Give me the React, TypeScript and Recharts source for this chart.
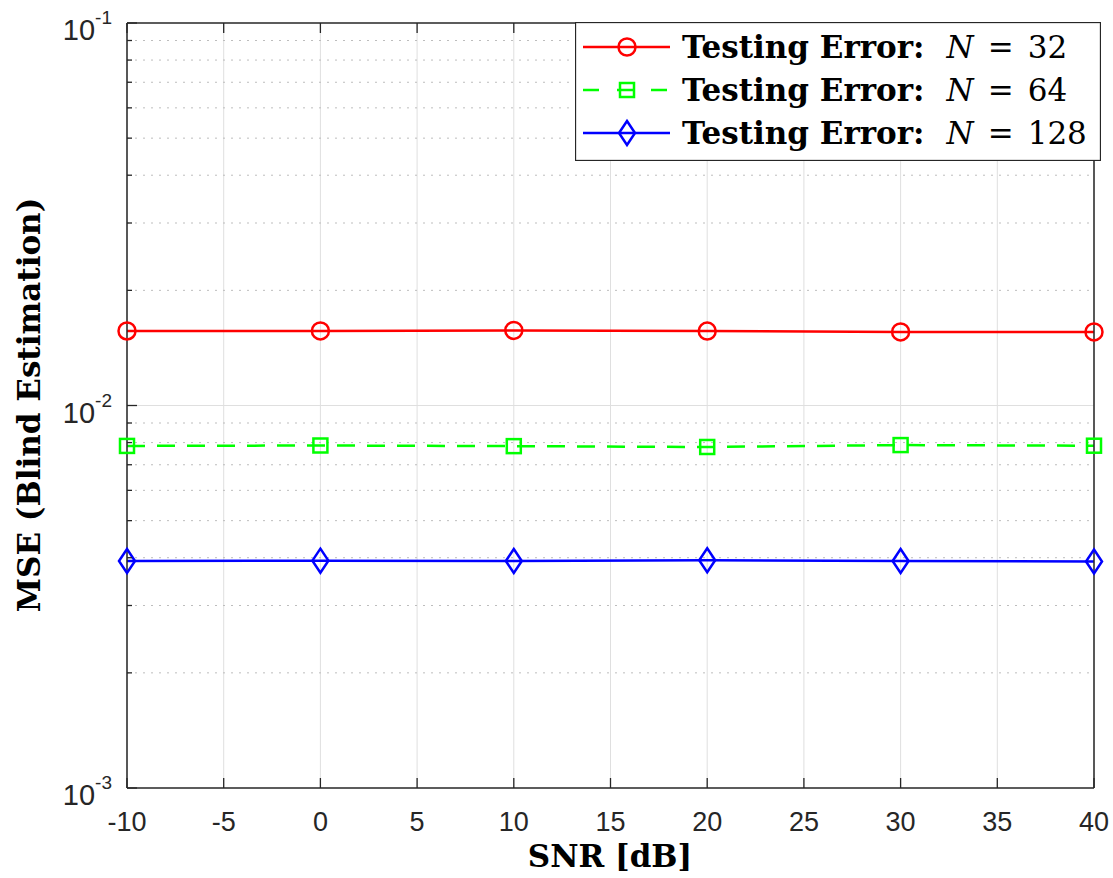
import React from "react";
import {
  LineChart,
  Line,
  XAxis,
  YAxis,
  CartesianGrid,
  ReferenceLine,
  Legend,
  Label,
} from "recharts";

const snr = [-10, 0, 10, 20, 30, 40];
const errN32 = [0.01566, 0.01567, 0.01571, 0.01565, 0.01557, 0.01557];
const errN64 = [0.00784, 0.00786, 0.00783, 0.00779, 0.00788, 0.00785];
const errN128 = [0.00392, 0.00393, 0.00392, 0.00394, 0.00392, 0.00391];

const xTicks = [-10, -5, 0, 5, 10, 15, 20, 25, 30, 35, 40];
const yMajor = [0.001, 0.01, 0.1];
const yMinor = [
  0.002, 0.003, 0.004, 0.005, 0.006, 0.007, 0.008, 0.009,
  0.02, 0.03, 0.04, 0.05, 0.06, 0.07, 0.08, 0.09,
];
const yTicks = [...yMajor, ...yMinor].sort((a, b) => a - b);
const decadeLabels: Record<string, string> = { "0.001": "-3", "0.01": "-2", "0.1": "-1" };

const series = [
  { key: "n32", n: "32", color: "#ff0000", dash: undefined, marker: "circle" },
  { key: "n64", n: "64", color: "#00ff00", dash: "18 12", marker: "square" },
  { key: "n128", n: "128", color: "#0000ff", dash: undefined, marker: "diamond" },
];

const data = snr.map((s, i) => ({
  snr: s,
  n32: errN32[i],
  n64: errN64[i],
  n128: errN128[i],
}));

const AXIS = "#262626";
const SERIF = "'DejaVu Serif', serif";
const SANS = "'Liberation Sans', Arial, sans-serif";

function Marker({ type, cx, cy, color }: { type: string; cx: number; cy: number; color: string }) {
  if (type === "circle")
    return <circle cx={cx} cy={cy} r={8.5} fill="none" stroke={color} strokeWidth={2.5} />;
  if (type === "square")
    return <rect x={cx - 7} y={cy - 7} width={14} height={14} fill="none" stroke={color} strokeWidth={2.5} />;
  return (
    <polygon
      points={`${cx},${cy - 12} ${cx + 8},${cy} ${cx},${cy + 12} ${cx - 8},${cy}`}
      fill="none"
      stroke={color}
      strokeWidth={2.5}
    />
  );
}

const isMajor = (v: number) => yMajor.some((m) => Math.abs(m - v) < 1e-9);

const BottomTick = (props: any) => {
  const { x, y, payload } = props;
  return (
    <g>
      <line x1={x} y1={y} x2={x} y2={y - 10} stroke={AXIS} strokeWidth={1.3} />
      <text x={x} y={y + 43} textAnchor="middle" fontFamily={SANS} fontSize={27} fill={AXIS}>
        {payload.value}
      </text>
    </g>
  );
};

const TopTick = (props: any) => {
  const { x, y } = props;
  return <line x1={x} y1={y} x2={x} y2={y + 10} stroke={AXIS} strokeWidth={1.3} />;
};

const LeftTick = (props: any) => {
  const { x, y, payload } = props;
  const major = isMajor(payload.value);
  return (
    <g>
      <line x1={x} y1={y} x2={x + (major ? 10 : 5)} y2={y} stroke={AXIS} strokeWidth={1.3} />
      {major && (
        <text x={x - 15} y={y + 17} textAnchor="end" fontFamily={SANS} fontSize={29} fill={AXIS}>
          <tspan>10</tspan>
          <tspan dy={-16} fontSize={19}>
            {decadeLabels[String(payload.value)]}
          </tspan>
        </text>
      )}
    </g>
  );
};

const RightTick = (props: any) => {
  const { x, y, payload } = props;
  const major = isMajor(payload.value);
  return <line x1={x} y1={y} x2={x - (major ? 10 : 5)} y2={y} stroke={AXIS} strokeWidth={1.3} />;
};

const LegendBox = () => (
  <svg width={526} height={139} style={{ display: "block" }}>
    <rect x={0.5} y={0.5} width={525} height={138} fill="#ffffff" stroke={AXIS} strokeWidth={1.3} />
    {series.map((s, i) => {
      const cy = 25 + i * 43;
      return (
        <g key={s.key}>
          <line x1={8} y1={cy} x2={95} y2={cy} stroke={s.color} strokeWidth={2.5} strokeDasharray={s.dash ? "16 18" : undefined} />
          <Marker type={s.marker} cx={52} cy={cy} color={s.color} />
          <text x={107} y={cy + 11} fontFamily={SERIF} fontSize={31} fill="#000">
            <tspan fontWeight="bold">Testing Error:</tspan>
            <tspan dx={22} fontStyle="italic">N</tspan>
            <tspan dx={14}>=</tspan>
            <tspan dx={14}>{s.n}</tspan>
          </text>
        </g>
      );
    })}
  </svg>
);

export default function App() {
  return (
    <div style={{ position: "absolute", left: 0, top: 0, background: "#fff" }}>
      <LineChart width={1113} height={878} data={data} margin={{ top: 0, right: 0, bottom: 0, left: 0 }}>
        <CartesianGrid horizontal={false} vertical stroke="#dfdfdf" strokeWidth={1} />
        {yMinor.map((v) => (
          <ReferenceLine key={"mn" + v} y={v} stroke="#bdbdbd" strokeWidth={1} strokeDasharray="2 6" />
        ))}
        <ReferenceLine y={0.01} stroke="#dfdfdf" strokeWidth={1} />
        <XAxis
          dataKey="snr"
          type="number"
          domain={[-10, 40]}
          ticks={xTicks}
          height={90}
          tickSize={0}
          tickMargin={0}
          tickLine={false}
          tick={<BottomTick />}
          axisLine={{ stroke: AXIS, strokeWidth: 1.5 }}
          interval={0}
        >
          <Label
            content={() => (
              <text x={610} y={867} textAnchor="middle" fontFamily={SERIF} fontWeight="bold" fontSize={31} fill="#000">
                SNR [dB]
              </text>
            )}
          />
        </XAxis>
        <XAxis
          xAxisId="top"
          orientation="top"
          dataKey="snr"
          type="number"
          domain={[-10, 40]}
          ticks={xTicks}
          height={23}
          tickSize={0}
          tickMargin={0}
          tickLine={false}
          tick={<TopTick />}
          axisLine={{ stroke: AXIS, strokeWidth: 1.5 }}
          interval={0}
        />
        <YAxis
          scale="log"
          type="number"
          domain={[0.001, 0.1]}
          ticks={yTicks}
          width={127}
          tickSize={0}
          tickMargin={0}
          tickLine={false}
          tick={<LeftTick />}
          axisLine={{ stroke: AXIS, strokeWidth: 1.5 }}
          interval={0}
        >
          <Label
            content={() => (
              <text
                x={40}
                y={405}
                transform="rotate(-90, 40, 405)"
                textAnchor="middle"
                fontFamily={SERIF}
                fontWeight="bold"
                fontSize={31}
                fill="#000"
              >
                MSE (Blind Estimation)
              </text>
            )}
          />
        </YAxis>
        <YAxis
          yAxisId="r"
          orientation="right"
          scale="log"
          type="number"
          domain={[0.001, 0.1]}
          ticks={yTicks}
          width={19}
          tickSize={0}
          tickMargin={0}
          tickLine={false}
          tick={<RightTick />}
          axisLine={{ stroke: AXIS, strokeWidth: 1.5 }}
          interval={0}
        />
        {series.map((s) => (
          <Line
            key={s.key}
            dataKey={s.key}
            type="linear"
            stroke={s.color}
            strokeWidth={2.5}
            strokeDasharray={s.dash}
            isAnimationActive={false}
            dot={(p: any) => <Marker key={s.key + p.index} type={s.marker} cx={p.cx} cy={p.cy} color={s.color} />}
            activeDot={false}
            legendType="none"
          />
        ))}
        <Legend
          layout="horizontal"
          verticalAlign="middle"
          align="center"
          content={() => <LegendBox />}
          wrapperStyle={{ left: 575, top: 22, width: 526, height: 139 }}
        />
      </LineChart>
    </div>
  );
}
